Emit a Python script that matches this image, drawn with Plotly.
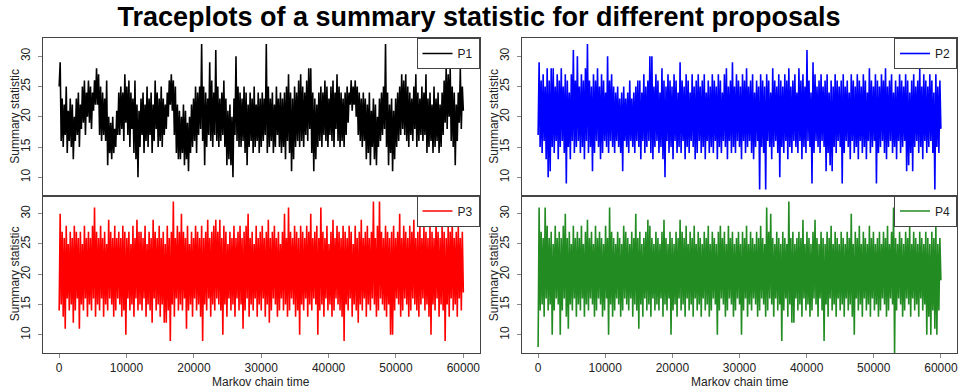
import plotly.graph_objects as go

# ---------------- data ----------------
# Each trace is drawn as the per-column low / high extremes of the chain:
# low value at t = 300*k, high value at t = 300*k + 150.
block = 300

p1_high = [
    29, 23, 22, 25, 21, 23, 22, 20, 23, 24,
    22, 25, 26, 24, 26, 25, 24, 26, 28, 27,
    25, 24, 23, 26, 20, 19, 20, 18, 21, 24,
    25, 24, 27, 25, 26, 24, 23, 26, 22, 21,
    23, 24, 22, 25, 23, 24, 22, 26, 24, 23,
    25, 23, 22, 24, 26, 27, 26, 25, 22, 21,
    20, 22, 21, 19, 20, 22, 23, 25, 24, 25,
    32, 25, 24, 23, 29, 26, 24, 31, 25, 23,
    24, 26, 23, 21, 22, 20, 23, 30, 25, 24,
    23, 25, 24, 22, 24, 23, 25, 22, 24, 23,
    24, 23, 32, 25, 23, 24, 22, 25, 23, 24,
    23, 24, 25, 27, 24, 23, 25, 24, 26, 27,
    25, 24, 26, 28, 28, 24, 23, 22, 24, 25,
    24, 26, 25, 23, 25, 26, 24, 27, 25, 24,
    23, 24, 25, 24, 26, 25, 26, 25, 24, 23,
    24, 23, 22, 24, 21, 23, 22, 20, 23, 24,
    25, 32, 24, 22, 23, 21, 23, 24, 25, 27,
    26, 27, 25, 24, 23, 25, 27, 24, 23, 25,
    24, 27, 23, 24, 22, 25, 23, 24, 22, 24,
    26, 28, 27, 28, 25, 24, 22, 24, 28, 25,
]
p1_low = [
    25, 16, 15, 17, 14, 16, 15, 13, 16, 17,
    15, 18, 19, 17, 20, 19, 18, 21, 22, 22,
    17, 16, 17, 16, 12, 14, 13, 14, 15, 17,
    17, 18, 16, 19, 17, 15, 18, 14, 13, 10,
    15, 17, 14, 16, 15, 17, 14, 16, 18, 15,
    16, 15, 17, 18, 20, 22, 21, 17, 14, 13,
    13, 14, 12, 13, 11, 14, 15, 16, 14, 17,
    18, 16, 12, 15, 17, 16, 15, 17, 16, 15,
    16, 17, 15, 12, 13, 12, 10, 17, 16, 15,
    15, 16, 14, 12, 15, 16, 14, 15, 16, 14,
    15, 16, 17, 14, 15, 16, 14, 15, 17, 15,
    14, 15, 13, 16, 14, 11, 13, 15, 16, 15,
    16, 15, 17, 16, 18, 14, 11, 13, 15, 16,
    15, 17, 16, 15, 17, 16, 15, 18, 16, 15,
    16, 15, 17, 19, 22, 21, 22, 20, 17, 16,
    15, 16, 13, 14, 12, 15, 13, 12, 15, 16,
    17, 18, 15, 12, 14, 11, 13, 15, 16, 17,
    18, 17, 16, 15, 17, 16, 18, 15, 16, 17,
    16, 17, 14, 15, 16, 14, 15, 16, 14, 15,
    17, 19, 18, 20, 16, 15, 12, 16, 19, 18,
    21,
]

p2_high = [
    29, 26, 27, 25, 28, 26, 28, 28, 25, 27,
    26, 28, 25, 27, 26, 24, 27, 31, 26, 30,
    25, 27, 26, 28, 32, 26, 25, 27, 26, 28,
    25, 27, 26, 24, 30, 26, 27, 25, 24, 25,
    23, 24, 25, 23, 24, 26, 23, 24, 25, 26,
    26, 24, 27, 25, 26, 30, 30, 25, 27, 26,
    24, 28, 26, 25, 27, 26, 25, 27, 26, 24,
    29, 26, 25, 27, 26, 24, 27, 25, 26, 27,
    25, 26, 27, 24, 26, 25, 27, 26, 25, 27,
    26, 24, 27, 28, 25, 26, 29, 25, 27, 26,
    25, 27, 26, 28, 25, 26, 27, 24, 26, 25,
    27, 26, 25, 27, 26, 24, 28, 26, 25, 27,
    26, 25, 27, 26, 28, 25, 26, 27, 24, 28,
    26, 27, 25, 31, 26, 24, 29, 27, 25, 26,
    27, 25, 26, 27, 24, 26, 25, 27, 26, 25,
    26, 27, 25, 26, 24, 27, 26, 25, 27, 26,
    25, 27, 26, 24, 28, 26, 25, 27, 26, 25,
    27, 26, 28, 25, 26, 27, 24, 26, 25, 27,
    26, 25, 27, 26, 24, 26, 27, 25, 26, 28,
    25, 27, 26, 25, 27, 26, 24, 27, 25, 26,
]
p2_low = [
    17, 15, 14, 16, 13, 10, 11, 15, 14, 16,
    13, 15, 16, 14, 9, 15, 13, 16, 14, 15,
    16, 14, 15, 13, 16, 14, 15, 11, 14, 16,
    15, 13, 14, 16, 15, 14, 16, 15, 14, 16,
    15, 14, 11, 16, 15, 14, 16, 15, 14, 16,
    15, 13, 16, 14, 15, 16, 14, 13, 15, 16,
    14, 15, 13, 10, 16, 14, 15, 13, 16, 14,
    15, 14, 16, 13, 15, 14, 16, 15, 13, 14,
    16, 14, 15, 13, 16, 14, 15, 14, 16, 13,
    15, 14, 16, 15, 13, 16, 14, 15, 14, 16,
    15, 13, 16, 14, 15, 16, 14, 13, 15, 16,
    8, 15, 14, 8, 16, 15, 13, 15, 16, 14,
    10, 15, 14, 16, 13, 15, 14, 16, 15, 14,
    16, 13, 15, 14, 16, 15, 9, 14, 16, 15,
    14, 16, 15, 11, 14, 12, 11, 15, 14, 16,
    15, 9, 14, 16, 15, 13, 16, 14, 15, 13,
    16, 14, 15, 13, 16, 14, 15, 16, 9, 14,
    15, 16, 14, 13, 15, 16, 14, 15, 13, 16,
    14, 15, 16, 11, 12, 14, 11, 15, 16, 14,
    15, 13, 16, 14, 15, 16, 14, 8, 15, 14,
    18,
]

p3_high = [
    30, 27, 26, 28, 25, 27, 26, 28, 27, 26,
    27, 25, 28, 26, 27, 26, 28, 31, 27, 26,
    28, 26, 27, 25, 29, 27, 26, 28, 26, 27,
    26, 28, 27, 26, 27, 25, 28, 26, 29, 27,
    27, 26, 28, 25, 27, 26, 29, 27, 26, 28,
    26, 27, 25, 28, 26, 27, 32, 26, 28, 27,
    30, 27, 26, 28, 25, 27, 26, 28, 27, 26,
    28, 26, 27, 29, 26, 27, 28, 29, 27, 29,
    26, 28, 27, 25, 27, 26, 28, 26, 27, 28,
    26, 27, 28, 30, 26, 27, 25, 28, 26, 27,
    28, 26, 27, 29, 26, 27, 28, 26, 27, 25,
    27, 30, 26, 31, 27, 26, 28, 27, 26, 28,
    27, 26, 28, 27, 30, 26, 27, 28, 26, 31,
    27, 26, 28, 25, 27, 29, 26, 28, 27, 26,
    28, 27, 26, 28, 27, 25, 28, 26, 27, 29,
    26, 27, 28, 26, 27, 32, 26, 28, 32, 27,
    26, 28, 27, 26, 27, 28, 26, 27, 30, 26,
    28, 27, 26, 28, 27, 29, 26, 27, 28, 26,
    28, 27, 26, 28, 27, 26, 29, 27, 26, 28,
    27, 26, 28, 27, 29, 26, 27, 28, 26, 27,
]
p3_low = [
    14, 15, 13, 11, 16, 14, 15, 12, 14, 16,
    11, 15, 14, 16, 13, 15, 14, 16, 13, 15,
    14, 16, 13, 15, 14, 16, 15, 13, 14, 16,
    15, 13, 14, 10, 16, 14, 15, 13, 16, 14,
    15, 14, 16, 13, 15, 14, 12, 16, 14, 15,
    13, 15, 12, 12, 14, 9, 15, 13, 16, 14,
    15, 14, 16, 11, 14, 15, 13, 16, 14, 15,
    13, 9, 15, 14, 16, 13, 15, 14, 16, 15,
    14, 10, 15, 13, 16, 14, 15, 13, 16, 14,
    15, 11, 14, 16, 13, 15, 14, 16, 13, 15,
    14, 16, 13, 15, 12, 14, 16, 15, 13, 14,
    16, 14, 15, 13, 14, 16, 15, 13, 14, 10,
    15, 14, 16, 13, 15, 14, 16, 15, 10, 14,
    15, 13, 16, 14, 15, 13, 14, 16, 15, 14,
    13, 9, 15, 14, 16, 13, 15, 14, 12, 15,
    14, 16, 13, 15, 14, 16, 15, 13, 14, 16,
    15, 14, 13, 15, 10, 10, 14, 16, 15, 13,
    14, 16, 15, 13, 14, 16, 15, 14, 13, 15,
    16, 14, 15, 13, 10, 15, 14, 16, 13, 15,
    14, 9, 15, 13, 16, 14, 15, 13, 16, 14,
    17,
]

p4_high = [
    31, 27, 26, 31, 28, 26, 27, 25, 28, 26,
    27, 26, 28, 30, 26, 27, 25, 28, 26, 27,
    26, 28, 25, 27, 29, 26, 27, 25, 28, 26,
    27, 26, 25, 28, 26, 31, 27, 26, 25, 27,
    26, 25, 28, 27, 26, 25, 27, 26, 30, 26,
    27, 25, 26, 27, 29, 28, 26, 25, 27, 26,
    25, 27, 29, 26, 25, 27, 26, 25, 27, 26,
    29, 27, 26, 28, 25, 27, 26, 28, 25, 27,
    26, 25, 27, 26, 28, 25, 27, 26, 25, 27,
    28, 26, 27, 25, 28, 26, 27, 25, 26, 27,
    25, 27, 26, 28, 25, 27, 26, 25, 27, 26,
    28, 26, 25, 31, 27, 30, 26, 25, 27, 26,
    25, 27, 26, 25, 32, 26, 27, 25, 26, 27,
    26, 29, 25, 27, 26, 25, 27, 29, 26, 25,
    27, 26, 25, 27, 26, 28, 25, 27, 26, 25,
    27, 26, 25, 27, 26, 30, 25, 27, 26, 28,
    25, 27, 26, 25, 28, 26, 27, 25, 26, 27,
    25, 27, 26, 28, 25, 27, 31, 26, 25, 27,
    26, 25, 27, 26, 28, 25, 27, 26, 25, 27,
    26, 25, 27, 26, 25, 27, 26, 28, 25, 26,
]
p4_low = [
    8, 14, 15, 13, 16, 14, 15, 10, 14, 16,
    15, 10, 14, 16, 13, 11, 15, 14, 16, 13,
    15, 14, 16, 13, 15, 14, 16, 15, 13, 14,
    16, 15, 13, 14, 16, 10, 15, 13, 14, 16,
    15, 13, 14, 16, 15, 14, 16, 13, 15, 14,
    11, 15, 13, 16, 14, 15, 13, 16, 14, 15,
    14, 16, 13, 15, 14, 16, 10, 14, 15, 13,
    16, 14, 15, 13, 16, 14, 15, 13, 16, 14,
    15, 13, 16, 14, 15, 13, 14, 16, 15, 10,
    14, 16, 15, 13, 14, 16, 15, 13, 14, 16,
    15, 10, 14, 16, 13, 15, 14, 16, 15, 13,
    14, 16, 15, 13, 14, 16, 15, 13, 16, 14,
    15, 9, 14, 16, 13, 15, 12, 12, 16, 14,
    15, 13, 16, 14, 15, 13, 14, 16, 15, 13,
    16, 14, 9, 15, 13, 16, 14, 15, 13, 16,
    14, 15, 13, 16, 14, 15, 13, 10, 16, 14,
    15, 13, 16, 14, 15, 13, 16, 14, 15, 13,
    14, 16, 15, 13, 14, 16, 15, 7, 14, 16,
    15, 13, 14, 16, 15, 13, 16, 14, 15, 13,
    16, 14, 15, 10, 13, 10, 14, 11, 10, 14,
    19,
]

series_names = ["P1", "P2", "P3", "P4"]
series_colors = ["#000000", "#0000FF", "#FF0000", "#228B22"]
series_high = [p1_high, p2_high, p3_high, p4_high]
series_low = [p1_low, p2_low, p3_low, p4_low]

y_ticks = [10, 15, 20, 25, 30]
x_ticks = [0, 10000, 20000, 30000, 40000, 50000, 60000]
x_tick_labels = ["0", "10000", "20000", "30000", "40000", "50000", "60000"]
title_text = "Traceplots of a summary statistic for different proposals"
x_title = "Markov chain time"
y_title = "Summary statistic"


def chain(low, high):
    ts, vs = [], []
    for k, h in enumerate(high):
        ts += [k * block, k * block + block // 2]
        vs += [low[k], h]
    ts.append(len(high) * block)
    vs.append(low[len(high)])
    return ts, vs


# ---------------- layout geometry ----------------
W, H = 958, 389
FONT = "Liberation Sans, Arial, Helvetica, sans-serif"
TXT = "#222"


def px_x(p):
    return p / W


def px_y(p):
    return 1 - p / H


col_px = [(43, 479.5), (522, 957)]
row_px = [(38, 195.5), (195.5, 353)]
col_dom = [(px_x(a), px_x(b)) for a, b in col_px]
row_dom = [(px_y(b), px_y(a)) for a, b in row_px]

fig = go.Figure()
annotations = []

for i, (name, color, lo, hi) in enumerate(zip(series_names, series_colors, series_low, series_high)):
    r, c = divmod(i, 2)
    k = i + 1
    xa = "x" if k == 1 else f"x{k}"
    ya = "y" if k == 1 else f"y{k}"
    leg = "legend" if k == 1 else f"legend{k}"
    ts, vs = chain(lo, hi)
    fig.add_trace(go.Scatter(
        x=ts, y=vs, mode="lines", name=name,
        line=dict(color=color, width=1.6),
        xaxis=xa, yaxis=ya, legend=leg, showlegend=True,
        hoverinfo="skip",
    ))
    bottom = (r == 1)
    xkey = "xaxis" if k == 1 else f"xaxis{k}"
    ykey = "yaxis" if k == 1 else f"yaxis{k}"
    fig.layout[xkey] = dict(
        domain=list(col_dom[c]), anchor=ya, range=[-2400, 62400],
        showline=True, mirror=True, linecolor="#444", linewidth=1,
        showgrid=False, zeroline=False, automargin=False,
        ticks="outside" if bottom else "", ticklen=4, tickcolor="#888",
        tickvals=x_ticks, ticktext=x_tick_labels, showticklabels=bottom,
        tickfont=dict(family=FONT, size=12, color=TXT),
    )
    fig.layout[ykey] = dict(
        domain=list(row_dom[r]), anchor=xa, range=[7.0, 33.0],
        showline=True, mirror=True, linecolor="#444", linewidth=1,
        showgrid=False, zeroline=False, automargin=False,
        ticks="outside", ticklen=4, tickcolor="#888",
        tickvals=y_ticks, tickangle=-90, ticklabelstandoff=3,
        tickfont=dict(family=FONT, size=12, color=TXT),
    )
    # axis titles placed like R's mtext
    y_mid = px_y((row_px[r][0] + row_px[r][1]) / 2)
    annotations.append(dict(
        text=y_title, xref="paper", yref="paper",
        x=px_x(col_px[c][0] - 28), y=y_mid, xanchor="center", yanchor="middle",
        textangle=-90, showarrow=False, font=dict(family=FONT, size=12, color=TXT),
    ))
    if bottom:
        annotations.append(dict(
            text=x_title, xref="paper", yref="paper",
            x=(col_dom[c][0] + col_dom[c][1]) / 2, y=px_y(381.5),
            xanchor="center", yanchor="middle",
            showarrow=False, font=dict(family=FONT, size=12, color=TXT),
        ))
    fig.layout[leg] = dict(
        x=col_dom[c][1], y=row_dom[r][1], xanchor="right", yanchor="top",
        xref="paper", yref="paper",
        bgcolor="white", bordercolor="#444", borderwidth=1,
        font=dict(family=FONT, size=12, color=TXT),
        itemwidth=30, tracegroupgap=0,
    )

fig.update_layout(
    width=W, height=H,
    margin=dict(l=0, r=0, t=0, b=0),
    paper_bgcolor="white", plot_bgcolor="white",
    annotations=annotations,
    title=dict(text=f"<b>{title_text}</b>", x=0.5, xanchor="center",
               y=px_y(17), yanchor="middle",
               font=dict(family=FONT, size=27, color="#000")),
)

fig.write_html(
    "out.html",
    config={"displayModeBar": False},
    post_script="document.body.style.margin='0';document.body.style.overflow='hidden';",
)
